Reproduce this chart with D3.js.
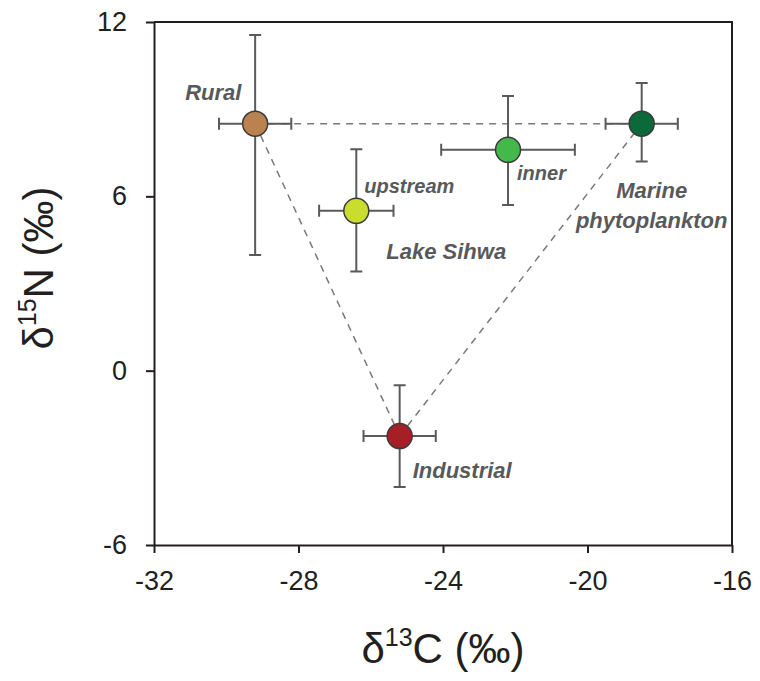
<!DOCTYPE html>
<html>
<head>
<meta charset="utf-8">
<script src="https://cdn.jsdelivr.net/npm/d3@7"></script>
<style>
  body { margin: 0; background: #fff; }
  svg { font-family: "Liberation Sans", Arial, sans-serif; }
</style>
</head>
<body>
<div id="chart"></div>
<script>
// source end-members and Lake Sihwa sites
var names = ["Rural", "upstream", "inner", "Marine", "Industrial"];
var d13C = [-29.2, -26.4, -22.2, -18.5, -25.2];
var d13CErr = [1.0, 1.03, 1.85, 1.0, 1.0];
var d15N = [8.5, 5.5, 7.6, 8.5, -2.25];
var d15NHi = [11.55, 7.62, 9.45, 9.9, -0.5];
var d15NLo = [3.98, 3.41, 5.7, 7.2, -4.0];
var fills = ["#b9824f", "#c9dd2f", "#45b84b", "#0c6a3a", "#a61f26"];

var xTicks = [-32, -28, -24, -20, -16];
var yTicks = [-6, 0, 6, 12];

// mixing triangle: Rural - Marine - Industrial
var triangle = [[0, 3], [0, 4], [4, 3]];

var labels = [
  {t: "Rural", i: 0, dx: -70, dy: -24, size: 22, anchor: "start"},
  {t: "upstream", i: 1, dx: 8, dy: -18, size: 20, anchor: "start"},
  {t: "inner", i: 2, dx: 9, dy: 30, size: 20, anchor: "start"},
  {t: "Lake Sihwa", i: 1, dx: 30, dy: 48, size: 22, anchor: "start"},
  {t: "Marine", i: 3, dx: 10, dy: 74, size: 22, anchor: "middle"},
  {t: "phytoplankton", i: 3, dx: 10, dy: 104, size: 22, anchor: "middle"},
  {t: "Industrial", i: 4, dx: 13, dy: 42, size: 22, anchor: "start"}
];

var W = 760, H = 681;
var margin = {top: 22, right: 28, bottom: 136, left: 154};
var width = W - margin.left - margin.right;
var height = H - margin.top - margin.bottom;

var svg = d3.select("#chart").append("svg")
  .attr("width", W)
  .attr("height", H);

var g = svg.append("g")
  .attr("transform", "translate(" + margin.left + "," + margin.top + ")");

var x = d3.scaleLinear().domain([-32, -16]).range([0, width]);
var y = d3.scaleLinear().domain([-6, 12]).range([height, 0]);

// plain hyphen minus like the original figure
var fmt = function(d) { return String(d); };

var xAxis = d3.axisBottom(x).tickValues(xTicks).tickFormat(fmt)
  .tickSize(8).tickSizeOuter(0).tickPadding(18);
var yAxis = d3.axisLeft(y).tickValues(yTicks).tickFormat(fmt)
  .tickSize(8).tickSizeOuter(0).tickPadding(19);

var gx = g.append("g")
  .attr("transform", "translate(0," + height + ")")
  .call(xAxis);
var gy = g.append("g").call(yAxis);

[gx, gy].forEach(function(a) {
  a.select(".domain").attr("stroke", "#231f20").attr("stroke-width", 2);
  a.selectAll(".tick line").attr("stroke", "#231f20").attr("stroke-width", 2);
  a.selectAll(".tick text")
    .attr("fill", "#231f20")
    .style("font-size", "27px");
});

// top and right frame
g.append("path")
  .attr("d", "M0,0H" + width + "V" + height)
  .attr("fill", "none")
  .attr("stroke", "#231f20")
  .attr("stroke-width", 2);

// dashed mixing lines
g.selectAll(".mix")
  .data(triangle)
  .enter().append("line")
  .attr("class", "mix")
  .attr("x1", function(d) { return x(d13C[d[0]]); })
  .attr("y1", function(d) { return y(d15N[d[0]]); })
  .attr("x2", function(d) { return x(d13C[d[1]]); })
  .attr("y2", function(d) { return y(d15N[d[1]]); })
  .attr("stroke", "#7a7a7a")
  .attr("stroke-width", 1.5)
  .attr("stroke-dasharray", "7,6");

var idx = d3.range(names.length);
var cap = 6;
var errCol = "#5a5a5a";

var eb = g.selectAll(".err")
  .data(idx)
  .enter().append("g")
  .attr("class", "err")
  .attr("stroke", errCol)
  .attr("stroke-width", 2)
  .attr("fill", "none");

eb.append("path")
  .attr("d", function(i) {
    var cx = x(d13C[i]), cy = y(d15N[i]);
    var x0 = x(d13C[i] - d13CErr[i]), x1 = x(d13C[i] + d13CErr[i]);
    var y0 = y(d15NHi[i]), y1 = y(d15NLo[i]);
    return "M" + cx + "," + y0 + "V" + y1 +
      "M" + (cx - cap) + "," + y0 + "H" + (cx + cap) +
      "M" + (cx - cap) + "," + y1 + "H" + (cx + cap) +
      "M" + x0 + "," + cy + "H" + x1 +
      "M" + x0 + "," + (cy - cap) + "V" + (cy + cap) +
      "M" + x1 + "," + (cy - cap) + "V" + (cy + cap);
  });

g.selectAll(".pt")
  .data(idx)
  .enter().append("circle")
  .attr("class", "pt")
  .attr("cx", function(i) { return x(d13C[i]); })
  .attr("cy", function(i) { return y(d15N[i]); })
  .attr("r", 12.5)
  .attr("fill", function(i) { return fills[i]; })
  .attr("stroke", "#3b3b3b")
  .attr("stroke-width", 1.5);

g.selectAll(".lbl")
  .data(labels)
  .enter().append("text")
  .attr("class", "lbl")
  .attr("x", function(d) { return x(d13C[d.i]) + d.dx; })
  .attr("y", function(d) { return y(d15N[d.i]) + d.dy; })
  .attr("text-anchor", function(d) { return d.anchor; })
  .attr("fill", "#58595b")
  .style("font-size", function(d) { return d.size + "px"; })
  .style("font-weight", "bold")
  .style("font-style", "italic")
  .text(function(d) { return d.t; });

// axis titles
var xt = svg.append("text")
  .attr("x", margin.left + width / 2)
  .attr("y", 663)
  .attr("text-anchor", "middle")
  .attr("fill", "#231f20")
  .style("font-size", "42px");
xt.append("tspan").text("δ");
xt.append("tspan").attr("dy", -17).style("font-size", "25px").text("13");
xt.append("tspan").attr("dy", 17).text("C (‰)");

var yt = svg.append("text")
  .attr("transform", "translate(53,268)rotate(-90)")
  .attr("text-anchor", "middle")
  .attr("fill", "#231f20")
  .style("font-size", "42px");
yt.append("tspan").text("δ");
yt.append("tspan").attr("dy", -17).style("font-size", "25px").text("15");
yt.append("tspan").attr("dy", 17).text("N (‰)");
</script>
</body>
</html>
